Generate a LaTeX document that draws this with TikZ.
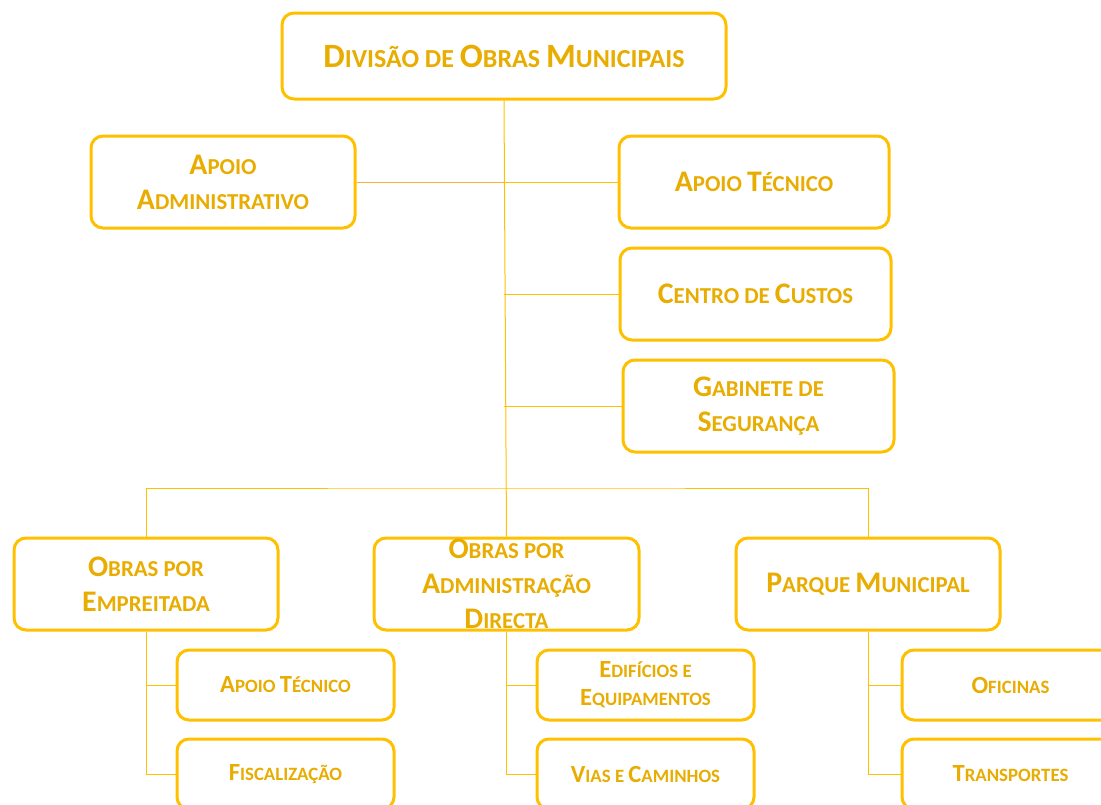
\documentclass[tikz,border=0pt]{standalone}
\usepackage{fontspec}
\setmainfont{Carlito}
\usetikzlibrary{positioning}
\definecolor{gold}{HTML}{FFC000}
\definecolor{goldtext}{HTML}{E8AD00}
\definecolor{amber}{HTML}{F9B040}
% capital letter of the fake small caps
\newcommand\Up[1]{\scalebox{1.31}{#1}}

\begin{document}
\begin{tikzpicture}[x=1pt,y=-1pt]
	\tikzstyle{box}=[draw=gold, line width=3pt, rounded corners=12pt, fill=white,
	text=goldtext, align=center, font=\bfseries\fontsize{22.8}{35}\selectfont,
	minimum height=92pt, inner sep=0pt]
	\tikzstyle{small}=[box, minimum width=217pt, minimum height=70pt,
	font=\bfseries\fontsize{18.8}{28}\selectfont]
	\tikzstyle{link}=[draw=gold, line width=1pt]
	\useasboundingbox (0,0) rectangle (1101,804);
	\clip (0,0) rectangle (1101,804);

	% top of the chart
	\node[box, minimum width=444pt, minimum height=86pt,
	font=\bfseries\fontsize{26}{30}\selectfont] (div) at (504,56)
	{\Up{D}IVISÃO DE \Up{O}BRAS \Up{M}UNICIPAIS};

	% staff units
	\node[box, minimum width=264pt] (aadm) at (223,182) {\Up{A}POIO\\\Up{A}DMINISTRATIVO};
	\node[box, minimum width=270pt] (atec) at (754,182) {\Up{A}POIO \Up{T}ÉCNICO};
	\node[box, minimum width=271pt] (ccus) at (755.5,294) {\Up{C}ENTRO DE \Up{C}USTOS};
	\node[box, minimum width=271pt] (gseg) at (758.5,406) {\Up{G}ABINETE DE\\\Up{S}EGURANÇA};

	% line units
	\node[box, minimum width=264pt] (emp) at (146,584) {\Up{O}BRAS POR\\\Up{E}MPREITADA};
	\node[box, minimum width=265pt] (oad) at (506.5,584) {\Up{O}BRAS POR\\\Up{A}DMINISTRAÇÃO\\\Up{D}IRECTA};
	\node[box, minimum width=264pt] (pqm) at (868,584) {\Up{P}ARQUE \Up{M}UNICIPAL};

	% sections
	\node[small] (emptec) at (285.5,685) {\Up{A}POIO \Up{T}ÉCNICO};
	\node[small] (empfis) at (285.5,774) {\Up{F}ISCALIZAÇÃO};
	\node[small] (oadedi) at (645.5,685) {\Up{E}DIFÍCIOS E\\\Up{E}QUIPAMENTOS};
	\node[small] (oadvia) at (645.5,774) {\Up{V}IAS E \Up{C}AMINHOS};
	\node[small] (pqmofi) at (1010.5,685) {\Up{O}FICINAS};
	\node[small] (pqmtra) at (1010.5,774) {\Up{T}RANSPORTES};

	\coordinate (bus) at (505,488);

	% connectors
	\draw[link] (div.south) -- (oad.north);
	\draw[link, draw=amber] (aadm.east) -- (aadm.east -| div.south);
	\draw[link] (aadm.east -| div.south) -- (atec.west);
	\draw[link] (ccus.west -| div.south) -- (ccus.west);
	\draw[link] (gseg.west -| div.south) -- (gseg.west);
	\draw[link] (emp.north) |- (bus) -| (pqm.north);
	\draw[link] (emp.south) |- (emptec.west);
	\draw[link] (emp.south) |- (empfis.west);
	\draw[link] (oad.south) |- (oadedi.west);
	\draw[link] (oad.south) |- (oadvia.west);
	\draw[link] (pqm.south) |- (pqmofi.west);
	\draw[link] (pqm.south) |- (pqmtra.west);
\end{tikzpicture}
\end{document}
